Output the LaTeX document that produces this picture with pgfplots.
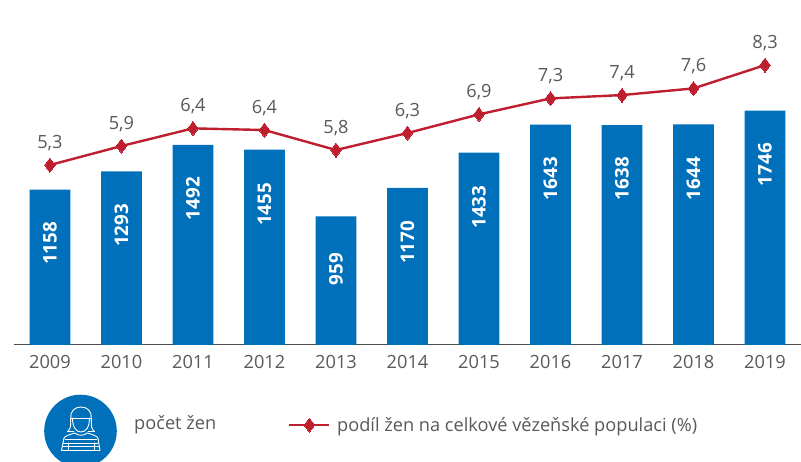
\documentclass[border=0pt]{standalone}
\usepackage{fontspec}
\setmainfont{Open Sans}
\usepackage{pgfplots}
\pgfplotsset{compat=1.18}
\definecolor{barblue}{HTML}{0070BA}
\definecolor{linered}{HTML}{BE1E2D}
\definecolor{txt}{HTML}{58595B}
\definecolor{axisgray}{HTML}{4D4D4F}

\pgfplotstableread{
x  pocet labelpos
0  1158  757
1  1293  891
2  1492  1091
3  1455  1047
4  959   564
5  1170  765
6  1433  1027
7  1643  1240
8  1638  1240
9  1644  1240
10 1746  1344
}\bars

\pgfplotstableread{
x  podil label
0  5.30  5,3
1  5.87  5,9
2  6.40  6,4
3  6.35  6,4
4  5.75  5,8
5  6.26  6,3
6  6.82  6,9
7  7.30  7,3
8  7.40  7,4
9  7.60  7,6
10 8.30  8,3
}\share

\begin{document}
\begin{tikzpicture}[x=1pt,y=1pt]
\useasboundingbox (0,0) rectangle (801,461);
\clip (0,0) rectangle (801,461);

\begin{axis}[
  at={(14pt,116pt)}, anchor=south west,
  scale only axis, width=787pt, height=340pt,
  xmin=-0.503, xmax=10.503,
  ymin=0, ymax=2533.5,
  axis x line*=bottom, axis y line=none,
  axis line style={draw=axisgray, line width=1pt, -},
  xtick=data,
  xticklabels={2009,2010,2011,2012,2013,2014,2015,2016,2017,2018,2019},
  major tick length=0pt,
  xticklabel style={font=\fontsize{18.2}{21}\selectfont, text=txt, yshift=-7pt},
  clip=false,
]
\addplot[ybar, bar width=40.8pt, bar shift=0pt, fill=barblue, draw=none]
  table[x=x, y=pocet] {\bars};
\addplot[only marks, mark=none,
  nodes near coords,
  point meta=explicit symbolic,
  every node near coord/.style={
    rotate=90, anchor=center, text=white, inner sep=0pt,
    font=\fontsize{18.8}{20}\selectfont\bfseries},
] table[x=x, y=labelpos, meta=pocet] {\bars};
\end{axis}

\begin{axis}[
  at={(14pt,116pt)}, anchor=south west,
  scale only axis, width=787pt, height=340pt,
  xmin=-0.503, xmax=10.503,
  ymin=-0.105, ymax=10.105,
  hide axis,
  clip=false,
  legend style={draw=none, fill=none, at={(274pt,-80pt)}, anchor=west,
    inner sep=0pt, font=\fontsize{18.2}{21}\selectfont, text=txt,
    legend cell align=left},
  legend image code/.code={
    \draw[mark repeat=2, mark phase=2, #1]
      plot coordinates {(0pt,0pt) (20pt,0pt) (40pt,0pt)};
  },
]
\addplot[color=linered, line width=2.4pt, mark=diamond*,
  mark size=7pt, mark options={fill=linered, draw=linered, line width=0pt},
  nodes near coords,
  point meta=explicit symbolic,
  every node near coord/.style={
    anchor=center, yshift=22pt, text=txt, inner sep=0pt,
    font=\fontsize{18.2}{21}\selectfont},
] table[x=x, y=podil, meta=label] {\share};
\addlegendentry{\kern4.5pt podíl žen na celkové vězeňské populaci (\%)}
\end{axis}

% legend icon and first legend label
\begin{scope}[x=1pt, y=-1pt, shift={(0pt,461pt)}]
  \fill[barblue] (80.5,431) circle (36.3);
  \begin{scope}[draw=white, line width=0.9pt, line cap=round, line join=round]
    % hat and hair
    \draw (71,418) .. controls (70,411) and (75,407) .. (81,407)
          .. controls (87,407) and (92,411) .. (91,418);
    \draw (70.5,418) -- (91.5,418);
    % face
    \draw (72.5,418) .. controls (72.5,427) and (76,432) .. (81,432)
          .. controls (86,432) and (89.5,427) .. (89.5,418);
    \draw (70.5,418) .. controls (71,425) and (71,429) .. (67.5,431.5)
          -- (74,431.5);
    \draw (91.5,418) .. controls (91,425) and (91,429) .. (94.5,431.5)
          -- (88,431.5);
    % body
    \draw (61.5,450.5) -- (64,438) .. controls (65,436) and (71,434) .. (75,433)
          .. controls (77,436) and (85,436) .. (87,433)
          .. controls (91,434) and (97,436) .. (98,438) -- (100,450.5) -- cycle;
    \draw (65,439.5) -- (97,439.5);
    \draw (63.5,443) -- (98,443);
    \draw (62.5,446.5) -- (99,446.5);
    \draw (68,443) -- (68,450.5);
    \draw (94,443) -- (94,450.5);
  \end{scope}
  \node[anchor=base west, inner sep=0pt, text=txt,
        font=\fontsize{18.2}{21}\selectfont] at (134,429) {počet žen};
\end{scope}
\end{tikzpicture}
\end{document}
